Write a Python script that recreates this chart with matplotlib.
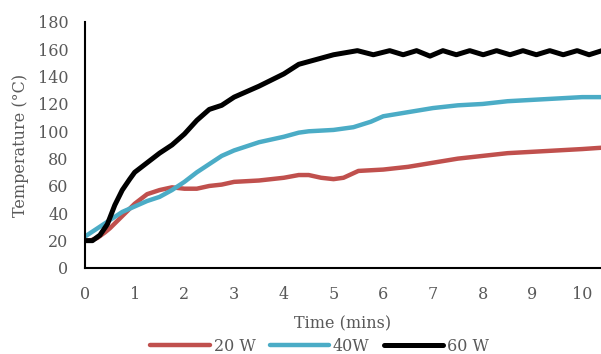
import matplotlib
matplotlib.use('Agg')
import matplotlib.pyplot as plt

t20 = [0, 0.1, 0.25, 0.4, 0.5, 0.75, 1.0, 1.25, 1.5, 1.75, 2.0, 2.25, 2.5, 2.75, 3.0, 3.5, 4.0, 4.3, 4.5, 4.75, 5.0, 5.2, 5.5, 6.0, 6.5, 7.0, 7.5, 8.0, 8.5, 9.0, 9.5, 10.0, 10.4]
y20 = [20, 20, 22, 26, 29, 38, 47, 54, 57, 59, 58, 58, 60, 61, 63, 64, 66, 68, 68, 66, 65, 66, 71, 72, 74, 77, 80, 82, 84, 85, 86, 87, 88]

t40 = [0, 0.25, 0.5, 0.75, 1.0, 1.25, 1.5, 1.75, 2.0, 2.25, 2.5, 2.75, 3.0, 3.25, 3.5, 4.0, 4.3, 4.5, 5.0, 5.4, 5.75, 6.0, 6.5, 7.0, 7.5, 8.0, 8.5, 9.0, 9.5, 10.0, 10.4]
y40 = [23, 29, 35, 41, 45, 49, 52, 57, 63, 70, 76, 82, 86, 89, 92, 96, 99, 100, 101, 103, 107, 111, 114, 117, 119, 120, 122, 123, 124, 125, 125]

t60 = [0, 0.15, 0.3, 0.45, 0.6, 0.75, 0.9, 1.0, 1.25, 1.5, 1.75, 2.0, 2.25, 2.5, 2.75, 3.0, 3.5, 4.0, 4.3, 4.5, 5.0, 5.48, 5.8, 6.13, 6.4, 6.67, 6.94, 7.2, 7.47, 7.74, 8.01, 8.28, 8.55, 8.81, 9.08, 9.35, 9.62, 9.9, 10.14, 10.4]
y60 = [20, 20, 24, 32, 46, 57, 65, 70, 77, 84, 90, 98, 108, 116, 119, 125, 133, 142, 149, 151, 156, 159, 156, 159, 156, 159, 155, 159, 156, 159, 156, 159, 156, 159, 156, 159, 156, 159, 156, 159]

xticks = list(range(0, 11))
yticks = list(range(0, 181, 20))
grey = '#595959'

plt.rcParams['font.family'] = ['DejaVu Serif']

fig = plt.figure(figsize=(6.01, 3.54), dpi=100)
ax = fig.add_axes([0.1414, 0.243, 0.8586, 0.695])

ax.plot(t20, y20, color='#C0504D', lw=3.2, label='20 W', solid_capstyle='round')
ax.plot(t40, y40, color='#4BACC6', lw=3.2, label='40W', solid_capstyle='round')
ax.plot(t60, y60, color='black', lw=3.6, label='60 W', solid_capstyle='round')

ax.set_xlim(0, 10.38)
ax.set_ylim(0, 180)
ax.set_xticks(xticks)
ax.set_yticks(yticks)
ax.tick_params(length=0, labelsize=11.5, labelcolor=grey)
ax.tick_params(axis='x', pad=13)
ax.tick_params(axis='y', pad=12)
for s in ['top', 'right']:
    ax.spines[s].set_visible(False)
for s in ['left', 'bottom']:
    ax.spines[s].set_linewidth(1.5)
    ax.spines[s].set_color('black')

ax.set_xlabel('Time (mins)', fontsize=11.5, color=grey, labelpad=9)
ax.set_ylabel('Temperature (°C)', fontsize=11.5, color=grey, labelpad=6)

leg = ax.legend(loc='center', bbox_to_anchor=(0.455, -0.318), ncol=3, frameon=False,
                fontsize=11.5, handlelength=3.7, handletextpad=0.25, columnspacing=0.9,
                borderpad=0)
for txt in leg.get_texts():
    txt.set_color(grey)

fig.savefig('out.png', dpi=100)
